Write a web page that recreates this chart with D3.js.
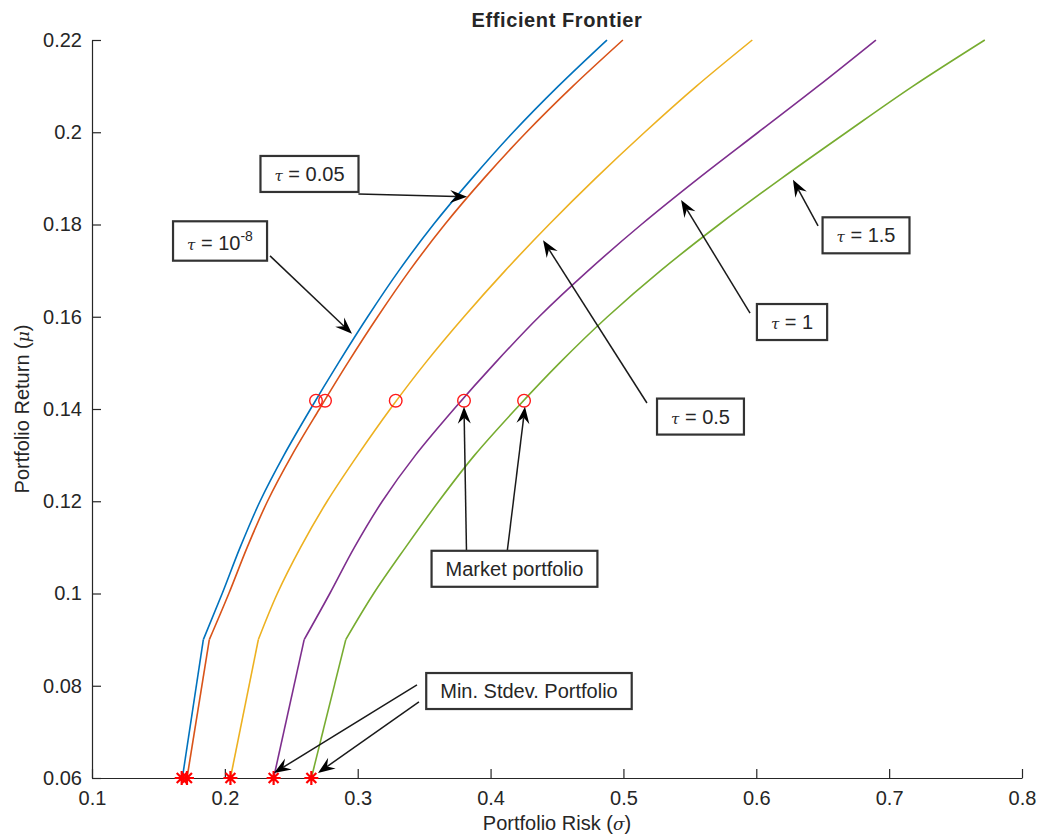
<!DOCTYPE html>
<html>
<head>
<meta charset="utf-8">
<script src="https://cdn.jsdelivr.net/npm/d3@7"></script>
<style>
  body { margin: 0; background: #fff; }
  svg { display: block; }
  text { font-family: "Liberation Sans", Arial, Helvetica, sans-serif; fill: #262626; }
</style>
</head>
<body>
<svg id="chart" width="1039" height="838"></svg>
<script>
// Expected returns at which each frontier was evaluated
const returns = [0.06, 0.09, 0.10, 0.11, 0.12, 0.13, 0.14, 0.15, 0.16, 0.17, 0.18, 0.19, 0.20, 0.21, 0.22];

// Portfolio risk (sigma) along each frontier, one array per tau
const riskTau1e8 = [0.168, 0.1838, 0.198, 0.2115, 0.2265, 0.2445, 0.2645, 0.2855, 0.3075, 0.331, 0.357, 0.386, 0.417, 0.451, 0.4876];
const riskTau005 = [0.1715, 0.1883, 0.203, 0.2168, 0.2321, 0.2505, 0.2712, 0.2925, 0.315, 0.339, 0.3655, 0.395, 0.427, 0.462, 0.4996];
const riskTau05  = [0.2042, 0.2252, 0.2395, 0.2570, 0.2770, 0.300, 0.3245, 0.351, 0.380, 0.411, 0.444, 0.479, 0.516, 0.555, 0.597];
const riskTau1   = [0.2367, 0.2597, 0.279, 0.2975, 0.3185, 0.3435, 0.3725, 0.4035, 0.4365, 0.4735, 0.5135, 0.5565, 0.6015, 0.6465, 0.690];
const riskTau15  = [0.2651, 0.291, 0.312, 0.336, 0.361, 0.388, 0.419, 0.452, 0.488, 0.528, 0.572, 0.619, 0.668, 0.718, 0.772];

const seriesRisk = [riskTau1e8, riskTau005, riskTau05, riskTau1, riskTau15];
const seriesColors = ["#0072BD", "#D95319", "#EDB120", "#7E2F8E", "#77AC30"];

// Market portfolio (tangency) for each tau
const marketReturn = 0.1418;
const marketRisk = [0.2686, 0.2754, 0.3286, 0.380, 0.4252];

// Minimum standard deviation portfolio for each tau
const minStdReturn = 0.06;
const minStdRisk = [0.1675, 0.1715, 0.2042, 0.2367, 0.2651];

// Axis ticks
const xTicks = [0.1, 0.2, 0.3, 0.4, 0.5, 0.6, 0.7, 0.8];
const yTicks = [0.06, 0.08, 0.1, 0.12, 0.14, 0.16, 0.18, 0.2, 0.22];

// Text-arrow annotations: box centre and arrows (tail -> head) in data units
const annotations = [
  { tau: "0.05", box: [0.2637, 0.1910], arrows: [[[0.3005, 0.1866], [0.3823, 0.1860]]] },
  { tau: "10", sup: "-8", box: [0.1963, 0.1761], arrows: [[[0.2340, 0.1732], [0.2957, 0.1563]]] },
  { tau: "0.5", box: [0.5580, 0.1384], arrows: [[[0.5177, 0.1413], [0.4395, 0.1766]]] },
  { tau: "1", box: [0.6269, 0.1589], arrows: [[[0.5953, 0.1608], [0.5434, 0.1853]]] },
  { tau: "1.5", box: [0.6826, 0.1777], arrows: [[[0.6465, 0.1797], [0.6276, 0.1897]]] },
  { text: "Market portfolio", box: [0.4180, 0.1054],
    arrows: [[[0.3819, 0.1088], [0.3800, 0.1405]], [[0.4124, 0.1088], [0.4259, 0.1405]]] },
  { text: "Min. Stdev. Portfolio", box: [0.4289, 0.0789],
    arrows: [[[0.3446, 0.0802], [0.2370, 0.0611]], [[0.3461, 0.0765], [0.2701, 0.0611]]] }
];

const svg = d3.select("#chart");
const x = d3.scaleLinear().domain([0.1, 0.8]).range([92, 1022]);
const y = d3.scaleLinear().domain([0.06, 0.22]).range([778, 40]);
const fmt = d => String(+d.toFixed(2));

// Axes (ticks pointing inward, no surrounding box)
const xAxis = svg.append("g").attr("transform", `translate(0,${y(0.06)})`)
  .call(d3.axisBottom(x).tickValues(xTicks).tickFormat(fmt).tickSizeInner(-9).tickSizeOuter(0).tickPadding(13));
const yAxis = svg.append("g").attr("transform", `translate(${x(0.1)},0)`)
  .call(d3.axisLeft(y).tickValues(yTicks).tickFormat(fmt).tickSizeInner(-9).tickSizeOuter(0).tickPadding(10));
[xAxis, yAxis].forEach(g => {
  g.select(".domain").attr("stroke", "#262626").attr("stroke-width", 1.2);
  g.selectAll(".tick line").attr("stroke", "#262626").attr("stroke-width", 1.2);
  g.selectAll(".tick text").attr("font-size", 20).attr("fill", "#262626")
    .attr("font-family", "'Liberation Sans', Arial, sans-serif");
});

// Title and axis labels
svg.append("text").attr("x", 557).attr("y", 27).attr("text-anchor", "middle")
  .attr("font-size", 20).attr("font-weight", "bold").attr("fill", "#000").style("letter-spacing", "0.6px")
  .text("Efficient Frontier");

const xl = svg.append("text").attr("x", 557).attr("y", 830).attr("text-anchor", "middle").attr("font-size", 20);
xl.append("tspan").text("Portfolio Risk (");
xl.append("tspan").attr("font-style", "italic").attr("font-family", "'DejaVu Serif', serif").attr("font-size", 17).text("σ");
xl.append("tspan").text(")");

const yl = svg.append("text").attr("transform", "translate(29,409) rotate(-90)").attr("text-anchor", "middle").attr("font-size", 20);
yl.append("tspan").text("Portfolio Return (");
yl.append("tspan").attr("font-style", "italic").attr("font-family", "'DejaVu Serif', serif").attr("font-size", 17).text("μ");
yl.append("tspan").text(")");

// Frontier curves: straight lower segment, smooth upper branch
const straight = d3.line().x(d => x(d[0])).y(d => y(d[1]));
const smooth = d3.line().x(d => x(d[0])).y(d => y(d[1])).curve(d3.curveMonotoneY);
seriesRisk.forEach((risk, i) => {
  const pts = risk.map((s, k) => [s, returns[k]]);
  const g = svg.append("g").attr("fill", "none").attr("stroke", seriesColors[i])
    .attr("stroke-width", 1.6).attr("stroke-linejoin", "round");
  g.append("path").attr("d", straight(pts.slice(0, 2)));
  g.append("path").attr("d", smooth(pts.slice(1)));
});

// Market portfolios (circles)
svg.append("g").selectAll("circle").data(marketRisk).join("circle")
  .attr("cx", d => x(d)).attr("cy", y(marketReturn)).attr("r", 6.3)
  .attr("fill", "none").attr("stroke", "#ff1a1a").attr("stroke-width", 1.4);

// Minimum standard deviation portfolios (asterisks)
const starPath = r => {
  const c = r * Math.SQRT1_2;
  return `M${-r},0L${r},0M0,${-r}L0,${r}M${-c},${-c}L${c},${c}M${-c},${c}L${c},${-c}`;
};
svg.append("g").selectAll("path").data(minStdRisk).join("path")
  .attr("transform", d => `translate(${x(d)},${y(minStdReturn)})`)
  .attr("d", starPath(7)).attr("stroke", "#ff0000").attr("stroke-width", 2.2).attr("fill", "none");

// Annotations
const annG = svg.append("g");
const headLen = 17, headW = 13, notch = 11;
annotations.forEach(a => {
  // arrows
  a.arrows.forEach(([tail, head]) => {
    const x0 = x(tail[0]), y0 = y(tail[1]), x1 = x(head[0]), y1 = y(head[1]);
    const ang = Math.atan2(y1 - y0, x1 - x0);
    const ex = x1 - Math.cos(ang) * notch, ey = y1 - Math.sin(ang) * notch;
    annG.append("line").attr("x1", x0).attr("y1", y0).attr("x2", ex).attr("y2", ey)
      .attr("stroke", "#1a1a1a").attr("stroke-width", 1.5);
    annG.append("path")
      .attr("d", `M0,0L${-headLen},${-headW / 2}L${-notch},0L${-headLen},${headW / 2}Z`)
      .attr("transform", `translate(${x1},${y1}) rotate(${ang * 180 / Math.PI})`)
      .attr("fill", "#000");
  });
  // box with label
  const g = annG.append("g").attr("transform", `translate(${x(a.box[0])},${y(a.box[1])})`);
  const rect = g.append("rect");
  const t = g.append("text").attr("text-anchor", "middle").attr("font-size", 20).attr("fill", "#1a1a1a").attr("dy", "0.36em");
  if (a.text) {
    t.text(a.text);
  } else {
    t.append("tspan").attr("font-style", "italic").attr("font-family", "'DejaVu Serif', serif").attr("font-size", 15).text("τ");
    t.append("tspan").text(" = " + a.tau);
    if (a.sup) t.append("tspan").attr("font-size", 14).attr("dy", "-0.6em").text(a.sup);
  }
  const bb = t.node().getBBox();
  const padX = 14, padY = 7;
  rect.attr("x", bb.x - padX).attr("y", bb.y - padY)
    .attr("width", bb.width + 2 * padX).attr("height", bb.height + 2 * padY)
    .attr("fill", "#fff").attr("stroke", "#333").attr("stroke-width", 2.2);
});
</script>
</body>
</html>
